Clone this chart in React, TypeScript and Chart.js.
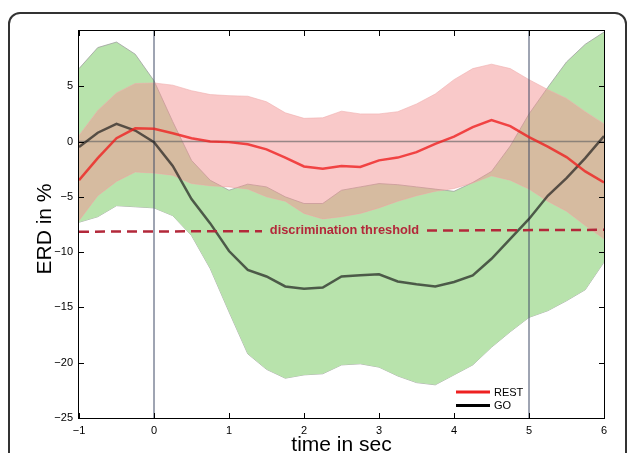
import React, { useEffect, useRef } from 'react';
import { Chart, registerables } from 'chart.js';

Chart.register(...registerables);

// ---- data ----
const TIME = [-1, -0.75, -0.5, -0.25, 0, 0.25, 0.5, 0.75, 1, 1.25, 1.5, 1.75, 2, 2.25, 2.5, 2.75, 3, 3.25, 3.5, 3.75, 4, 4.25, 4.5, 4.75, 5, 5.25, 5.5, 5.75, 6];

const GO_MEAN = [-0.5, 0.8, 1.6, 1.0, -0.05, -2.2, -5.2, -7.4, -9.9, -11.6, -12.2, -13.1, -13.3, -13.2, -12.2, -12.1, -12.0, -12.65, -12.9, -13.1, -12.7, -12.1, -10.6, -8.8, -7.0, -4.9, -3.3, -1.5, 0.5];
const GO_UPPER = [6.6, 8.5, 9.0, 7.9, 5.5, 1.8, -1.7, -3.5, -4.4, -3.85, -4.1, -5.0, -5.6, -5.6, -4.4, -4.1, -3.8, -3.9, -4.1, -4.3, -4.5, -3.7, -2.7, -0.4, 2.5, 4.9, 7.2, 8.8, 9.9];
const GO_LOWER = [-7.3, -6.8, -5.8, -5.9, -6.0, -6.7, -8.5, -11.5, -15.4, -19.2, -20.6, -21.4, -21.1, -21.0, -20.2, -20.1, -20.4, -21.2, -21.8, -22.0, -21.1, -20.2, -18.6, -17.2, -15.9, -15.3, -14.4, -13.4, -10.9];

const REST_MEAN = [-3.5, -1.5, 0.3, 1.2, 1.15, 0.75, 0.3, 0.0, -0.05, -0.25, -0.7, -1.45, -2.25, -2.45, -2.2, -2.3, -1.7, -1.45, -0.95, -0.2, 0.45, 1.3, 1.95, 1.4, 0.4, -0.45, -1.4, -2.7, -3.7];
const REST_UPPER = [0.55, 2.8, 4.4, 5.25, 5.3, 5.1, 4.6, 4.25, 4.15, 4.1, 3.6, 2.6, 2.1, 2.15, 2.75, 2.5, 2.5, 2.7, 3.4, 4.3, 5.6, 6.6, 7.0, 6.6, 5.6, 4.7, 3.9, 2.7, 1.6];
const REST_LOWER = [-7.15, -4.9, -3.6, -2.75, -2.85, -3.05, -3.8, -4.0, -4.1, -4.3, -5.0, -5.4, -6.5, -7.0, -6.8, -6.5, -6.0, -5.4, -4.9, -4.5, -4.25, -3.75, -3.1, -3.5, -4.3, -5.4, -6.3, -7.6, -8.8];

const THRESHOLD_X = [-1, 1.44, 1.5, 3.64, 6];
const THRESHOLD_Y = [-8.15, -8.1, null, -8.05, -7.98];
const THRESHOLD_LABEL = 'discrimination threshold';
const THRESHOLD_LABEL_POS = [2.54, -8.06];

const ONSET_TIMES = [0, 5];
const X_TICKS = [-1, 0, 1, 2, 3, 4, 5, 6];
const Y_TICKS = [-25, -20, -15, -10, -5, 0, 5];
const X_RANGE = [-1, 6];
const Y_RANGE = [-25, 10];

const LEGEND_LABELS = ['REST', 'GO'];
const LEGEND_COLORS = ['#ee2020', '#000000'];

const X_TITLE = 'time in sec';
const Y_TITLE = 'ERD in %';

const FONT = '"Liberation Sans", Arial, Helvetica, sans-serif';

const pts = (xs: number[], ys: (number | null)[]) => xs.map((x, i) => ({ x, y: ys[i] }));
const minusFmt = (v: number) => String(v).replace('-', '\u2212');

const decorPlugin = {
  id: 'decor',
  afterDatasetsDraw(chart: any) {
    const { ctx, scales } = chart;
    const xs = scales.x, ys = scales.y;
    ctx.save();
    ctx.font = `bold 12.8px ${FONT}`;
    ctx.fillStyle = '#b3283a';
    ctx.textAlign = 'center';
    ctx.textBaseline = 'middle';
    ctx.fillText(THRESHOLD_LABEL, xs.getPixelForValue(THRESHOLD_LABEL_POS[0]), ys.getPixelForValue(THRESHOLD_LABEL_POS[1]));
    ctx.restore();
  },
  afterDraw(chart: any) {
    const { ctx, chartArea: a, scales } = chart;
    const xs = scales.x, ys = scales.y;
    ctx.save();
    // box
    ctx.strokeStyle = '#000';
    ctx.lineWidth = 1;
    ctx.strokeRect(a.left - 0.5, a.top - 0.5, a.right - a.left + 1, a.bottom - a.top + 1);
    // inward ticks
    ctx.beginPath();
    X_TICKS.forEach((v) => {
      const px = Math.round(xs.getPixelForValue(v)) + 0.5;
      ctx.moveTo(px, a.bottom); ctx.lineTo(px, a.bottom - 5);
      ctx.moveTo(px, a.top); ctx.lineTo(px, a.top + 5);
    });
    Y_TICKS.forEach((v) => {
      const py = Math.round(ys.getPixelForValue(v)) + 0.5;
      ctx.moveTo(a.left, py); ctx.lineTo(a.left + 5, py);
      ctx.moveTo(a.right, py); ctx.lineTo(a.right - 5, py);
    });
    ctx.stroke();
    // legend
    ctx.font = `11px ${FONT}`;
    ctx.textAlign = 'left';
    ctx.textBaseline = 'middle';
    LEGEND_LABELS.forEach((lab, i) => {
      const ly = a.bottom - 26 + i * 13.5;
      ctx.strokeStyle = LEGEND_COLORS[i];
      ctx.lineWidth = 3;
      ctx.beginPath();
      ctx.moveTo(a.right - 148, ly);
      ctx.lineTo(a.right - 114, ly);
      ctx.stroke();
      ctx.fillStyle = '#000';
      ctx.fillText(lab, a.right - 110, ly + 0.5);
    });
    // titles
    ctx.fillStyle = '#000';
    ctx.font = `21px ${FONT}`;
    ctx.textAlign = 'center';
    ctx.textBaseline = 'alphabetic';
    ctx.fillText(X_TITLE, (a.left + a.right) / 2, 451);
    ctx.translate(51, 229);
    ctx.rotate(-Math.PI / 2);
    ctx.fillText(Y_TITLE, 0, 0);
    ctx.restore();
  },
};

export default function App() {
  const ref = useRef<HTMLCanvasElement | null>(null);

  useEffect(() => {
    if (!ref.current) return;
    const line = (data: any[], color: string, width: number, order: number, extra: any = {}) => ({
      data,
      borderColor: color,
      borderWidth: width,
      pointRadius: 0,
      tension: 0,
      fill: false,
      order,
      ...extra,
    });
    const chart = new Chart(ref.current, {
      type: 'line',
      data: {
        datasets: [
          line(pts(TIME, GO_UPPER), 'rgba(160,160,160,0.8)', 1, 10, { fill: 1, backgroundColor: '#b8e3ac' }),
          line(pts(TIME, GO_LOWER), 'rgba(160,160,160,0.8)', 1, 10),
          line(pts(TIME, REST_UPPER), 'rgba(240,175,175,0.6)', 1, 9, { fill: 3, backgroundColor: 'rgba(243,147,147,0.5)' }),
          line(pts(TIME, REST_LOWER), 'rgba(240,175,175,0.6)', 1, 9),
          line(pts(X_RANGE, [0, 0]), 'rgba(100,100,100,0.65)', 1.5, 5),
          line(pts([ONSET_TIMES[0], ONSET_TIMES[0]], Y_RANGE), '#3e4a66', 1, 5),
          line(pts([ONSET_TIMES[1], ONSET_TIMES[1]], Y_RANGE), '#3e4a66', 1, 5),
          line(pts(TIME, GO_MEAN), 'rgba(25,25,25,0.68)', 2.5, 3),
          line(pts(TIME, REST_MEAN), 'rgba(238,30,30,0.78)', 2.5, 2),
          line(pts(THRESHOLD_X, THRESHOLD_Y), '#b3283a', 2.5, 1, { borderDash: [10, 6], spanGaps: false }),
        ],
      },
      options: {
        animation: false,
        responsive: false,
        maintainAspectRatio: false,
        layout: { padding: { left: 0, top: 31, right: 25, bottom: 0 } },
        plugins: { legend: { display: false }, tooltip: { enabled: false }, title: { display: false } },
        scales: {
          x: {
            type: 'linear',
            min: X_RANGE[0],
            max: X_RANGE[1],
            grid: { display: false, drawTicks: false },
            border: { display: false },
            afterBuildTicks: (s: any) => { s.ticks = X_TICKS.map((v) => ({ value: v })); },
            afterFit: (s: any) => { s.height = 35; },
            ticks: {
              padding: 6,
              color: '#000',
              font: { family: FONT, size: 11 },
              callback: (v: any) => minusFmt(v),
              maxRotation: 0,
            },
          },
          y: {
            type: 'linear',
            min: Y_RANGE[0],
            max: Y_RANGE[1],
            grid: { display: false, drawTicks: false },
            border: { display: false },
            afterBuildTicks: (s: any) => { s.ticks = Y_TICKS.map((v) => ({ value: v })); },
            afterFit: (s: any) => { s.width = 79; },
            ticks: {
              padding: 6,
              color: '#000',
              font: { family: FONT, size: 11 },
              callback: (v: any) => minusFmt(v),
            },
          },
        },
      },
      plugins: [decorPlugin],
    });
    return () => chart.destroy();
  }, []);

  return (
    <div style={{ position: 'fixed', left: 0, top: 0, width: 629, height: 453, overflow: 'hidden', background: '#fff' }}>
      <div
        style={{
          position: 'absolute',
          left: 8,
          top: 12,
          width: 619,
          height: 520,
          border: '2px solid #333',
          borderRadius: 12,
          boxSizing: 'border-box',
        }}
      />
      <canvas ref={ref} width={629} height={453} style={{ position: 'absolute', left: 0, top: 0, width: 629, height: 453 }} />
    </div>
  );
}
